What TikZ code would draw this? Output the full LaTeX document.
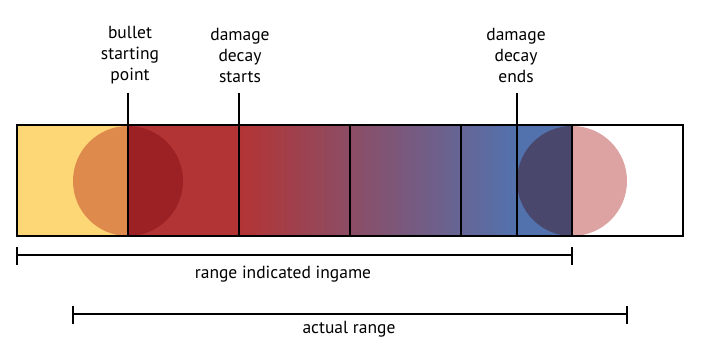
\documentclass[tikz,border=0pt]{standalone}
\usepackage{fontspec}
\setmainfont{PT Sans}
\usetikzlibrary{positioning}

\definecolor{sandy}{HTML}{FDD676}
\definecolor{ember}{HTML}{DE8A4C}
\definecolor{crimson}{HTML}{B33434}
\definecolor{bloodred}{HTML}{9B2124}
\definecolor{steel}{HTML}{5272AE}
\definecolor{dusk}{HTML}{4A476D}
\definecolor{blush}{HTML}{DDA2A2}

\tikzset{
  lbl/.style={align=center, font=\fontsize{17.5}{21}\selectfont, inner sep=0pt},
  edge/.style={line width=2pt},
  tick/.style={line width=2pt},
}

\begin{document}
\begin{tikzpicture}[x=1pt,y=-1pt]
            \useasboundingbox (0,0) rectangle (709,358);

            % colour bands
            \fill[sandy] (17,125) rectangle (128,236);
            \fill[crimson] (128,125) rectangle (239,236);
            \shade[left color=crimson, right color=steel] (239,125) rectangle (517,236);
            \fill[steel] (517,125) rectangle (572,236);

            % bullet at the start
            \begin{scope}
              \clip (60,125) rectangle (128,236);
              \fill[ember] (128,181) circle (55);
            \end{scope}
            \begin{scope}
              \clip (128,125) rectangle (200,236);
              \fill[bloodred] (128,181) circle (55);
            \end{scope}
            % bullet at the end
            \begin{scope}
              \clip (500,125) rectangle (572,236);
              \fill[dusk] (572,181) circle (55);
            \end{scope}
            \begin{scope}
              \clip (572,125) rectangle (640,236);
              \fill[blush] (572,181) circle (55);
            \end{scope}

            % outline and dividers
            \draw[edge] (17,125) rectangle (683,236);
            \foreach \xx in {350,461} {
              \draw[edge] (\xx,125) -- (\xx,236);
            }

            % labels with their marks
            \node[lbl] (start) at (130,55) {bullet\\starting\\point};
            \node[lbl] (decaystart) at (240,55) {damage\\decay\\starts};
            \node[lbl] (decayend) at (516,55) {damage\\decay\\ends};
            \coordinate (startbot) at (128,236);
            \coordinate (decaystartbot) at (239,236);
            \coordinate (decayendbot) at (517,236);
            \coordinate (starttop) at (128,93);
            \coordinate (decaystarttop) at (239,93);
            \coordinate (decayendtop) at (517,93);
            \draw[edge] (starttop) -- (startbot);
            \draw[edge] (decaystarttop) -- (decaystartbot);
            \draw[edge] (decayendtop) -- (decayendbot);
            \draw[edge] (572,125) -- (572,236);

            % ranges
            \coordinate (ingameL) at (17,255);
            \coordinate (ingameR) at (572,255);
            \coordinate (actualL) at (73,314);
            \coordinate (actualR) at (627,314);
            \draw[tick] (ingameL) -- (ingameR);
            \draw[tick] (17,247) -- (17,265);
            \draw[tick] (572,247) -- (572,265);
            \draw[tick] (actualL) -- (actualR);
            \draw[tick] (73,306) -- (73,324);
            \draw[tick] (627,306) -- (627,324);
            \node[lbl, anchor=base] (ingame) at (283,278) {range indicated ingame};
            \node[lbl, anchor=base] (actual) at (349,333) {actual range};
\end{tikzpicture}
\end{document}
